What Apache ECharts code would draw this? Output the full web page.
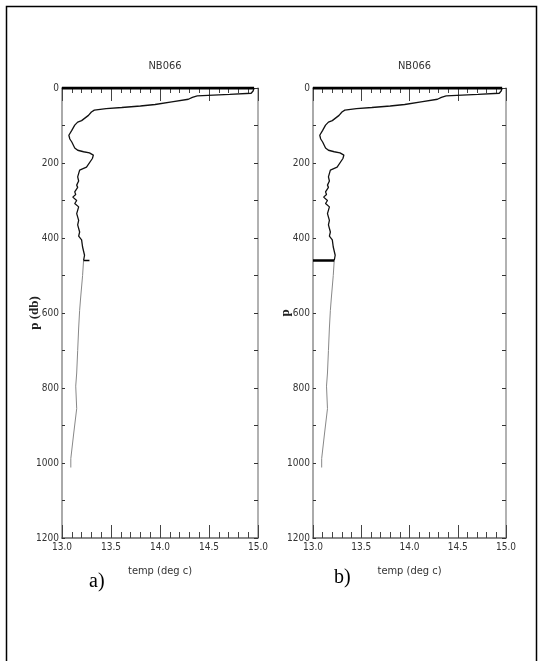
<!DOCTYPE html>
<html>
<head>
<meta charset="utf-8">
<script src="https://cdn.jsdelivr.net/npm/echarts@6/dist/echarts.min.js"></script>
<style>
html,body{margin:0;padding:0;background:#fff;}
#main{width:543px;height:661px;}
</style>
</head>
<body>
<div id="main"></div>
<script>
// ---- data ----
const stationName = 'NB066';
const xTickLabels = ['13.0', '13.5', '14.0', '14.5', '15.0'];
const yTickLabels = ['0', '200', '400', '600', '800', '1000', '1200'];
const panelLabels = ['a)', 'b)'];
const yNames = ['p (db)', 'p'];
const xName = 'temp (deg c)';

// upper profile (temp, pressure), 0-460 db
const upperTemp = [14.96,14.95,14.93,14.71,14.38,14.33,14.29,14.12,13.95,13.80,13.61,13.45,13.33,13.30,13.27,13.20,13.16,13.13,13.10,13.07,13.08,13.10,13.13,13.16,13.22,13.28,13.32,13.31,13.30,13.25,13.18,13.16,13.17,13.15,13.16,13.13,13.14,13.11,13.15,13.13,13.17,13.15,13.17,13.16,13.18,13.17,13.20,13.21,13.23,13.22];
const upperP    = [0,8,14,17,21,25,30,37,44,48,52,55,59,64,73,87,91,99,113,126,136,144,160,166,170,173,179,188,193,211,219,237,248,259,265,277,284,291,300,308,317,335,353,365,384,395,405,424,446,460];
// lower profile, 460-1012 db
const lowerTemp = [13.22,13.21,13.19,13.18,13.17,13.16,13.15,13.14,13.15,13.12,13.09,13.09];
const lowerP    = [460,500,560,593,640,700,760,795,855,920,988,1012];
// surface line at p = 0
const surfTemp = [13.0, 14.96];
const surfP = [0, 0];
// marker at 460 db
const markA_T = [13.22, 13.28];
const markB_T = [13.0, 13.22];
const markP = [460, 460];

function pairs(xs, ys){ return xs.map((x,i)=>[x, ys[i]]); }

const NARROW = '"Liberation Sans Narrow","DejaVu Sans Condensed","Liberation Sans",Arial,sans-serif';
const grids = [
  {left: 62, top: 88, width: 196, height: 450},
  {left: 313, top: 88, width: 193, height: 450}
];

const xAxes = [], yAxes = [], series = [], titles = [], graphics = [];
grids.forEach((g, i) => {
  // bottom x axis
  xAxes.push({
    type: 'value', gridIndex: i, position: 'bottom', min: 13, max: 15, interval: 0.5,
    name: xName, nameLocation: 'middle', nameGap: 28, nameMoveOverlap: false,
    nameTextStyle: {fontFamily: NARROW, fontSize: 11, color: '#333'},
    axisLine: {show: true, onZero: false, lineStyle: {color: '#666', width: 1.5}},
    axisTick: {show: true, inside: true, length: 13, lineStyle: {color: '#444'}},
    minorTick: {show: true, splitNumber: 5, length: 6, lineStyle: {color: '#444'}},
    splitLine: {show: false},
    axisLabel: {margin: 4, fontFamily: NARROW, fontSize: 10, color: '#333',
      formatter: v => xTickLabels[Math.round((v - 13) / 0.5)]}
  });
  // top x axis
  xAxes.push({
    type: 'value', gridIndex: i, position: 'top', min: 13, max: 15, interval: 0.5,
    axisLine: {show: true, onZero: false, lineStyle: {color: '#666', width: 1}},
    axisTick: {show: true, inside: true, length: 13, lineStyle: {color: '#444'}},
    minorTick: {show: true, splitNumber: 5, length: 5, lineStyle: {color: '#444'}},
    splitLine: {show: false}, axisLabel: {show: false}
  });
  // left y axis
  yAxes.push({
    type: 'value', gridIndex: i, position: 'left', inverse: true, min: 0, max: 1200, interval: 200,
    name: yNames[i], nameLocation: 'middle', nameGap: 21, nameRotate: 90, nameMoveOverlap: false,
    nameTextStyle: {fontFamily: '"Liberation Serif","Times New Roman",serif', fontWeight: 'bold', fontSize: 13, color: '#222'},
    axisLine: {show: true, onZero: false, lineStyle: {color: '#aaa', width: 2}},
    axisTick: {show: true, inside: true, length: 3, lineStyle: {color: '#333'}},
    minorTick: {show: true, splitNumber: 2, length: 3, lineStyle: {color: '#333'}},
    splitLine: {show: false},
    axisLabel: {margin: 3, fontFamily: NARROW, fontSize: 10, color: '#333',
      formatter: v => yTickLabels[Math.round(v / 200)]}
  });
  // right y axis
  yAxes.push({
    type: 'value', gridIndex: i, position: 'right', inverse: true, min: 0, max: 1200, interval: 200,
    axisLine: {show: true, onZero: false, lineStyle: {color: '#999', width: 1.5}},
    axisTick: {show: true, inside: true, length: 4, lineStyle: {color: '#333'}},
    minorTick: {show: true, splitNumber: 2, length: 4, lineStyle: {color: '#333'}},
    splitLine: {show: false}, axisLabel: {show: false}
  });
  const xi = i * 2, yi = i * 2;
  series.push({type: 'line', xAxisIndex: xi, yAxisIndex: yi, data: pairs(upperTemp, upperP),
    showSymbol: false, lineStyle: {color: '#111', width: 1.3}, silent: true});
  series.push({type: 'line', xAxisIndex: xi, yAxisIndex: yi, data: pairs(lowerTemp, lowerP),
    showSymbol: false, lineStyle: {color: '#888', width: 1}, silent: true});
  series.push({type: 'line', xAxisIndex: xi, yAxisIndex: yi, data: pairs(surfTemp, surfP),
    showSymbol: false, lineStyle: {color: '#000', width: 3}, silent: true});
  series.push({type: 'line', xAxisIndex: xi, yAxisIndex: yi, data: pairs(i === 0 ? markA_T : markB_T, markP),
    showSymbol: false, lineStyle: {color: '#000', width: i === 0 ? 1.5 : 2.5}, silent: true});
  titles.push({text: stationName, left: g.left + g.width / 2, top: 56, textAlign: 'center',
    textStyle: {fontFamily: NARROW, fontSize: 11, fontWeight: 'normal', color: '#333'}});
});

graphics.push({type: 'rect', shape: {x: 6.5, y: 6.5, width: 530, height: 670},
  style: {fill: null, stroke: '#000', lineWidth: 1.5}, silent: true});
graphics.push({type: 'text', left: 89, top: 572, style: {text: panelLabels[0],
  font: '20px "Liberation Serif","Times New Roman",serif', fill: '#000'}});
graphics.push({type: 'text', left: 334, top: 568, style: {text: panelLabels[1],
  font: '20px "Liberation Serif","Times New Roman",serif', fill: '#000'}});

const chart = echarts.init(document.getElementById('main'), null, {renderer: 'canvas'});
chart.setOption({
  animation: false,
  backgroundColor: '#fff',
  title: titles,
  grid: grids,
  xAxis: xAxes,
  yAxis: yAxes,
  series: series,
  graphic: graphics
});
</script>
</body>
</html>
